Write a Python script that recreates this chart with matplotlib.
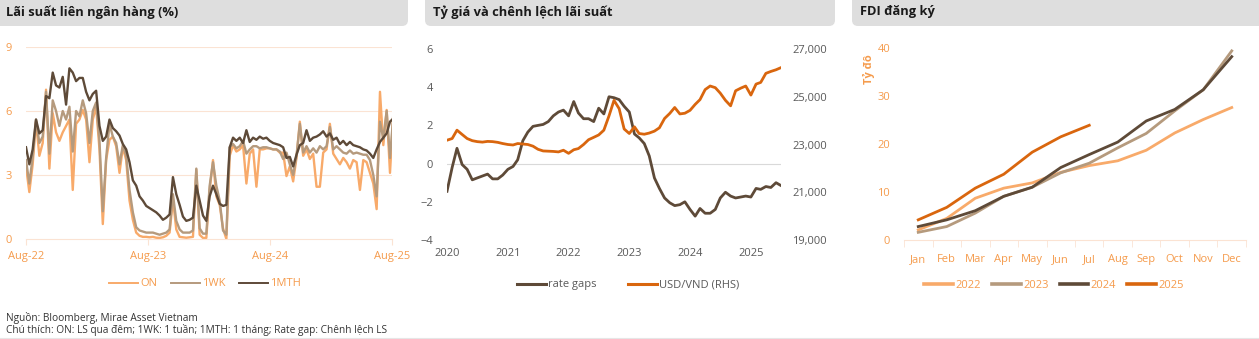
import pandas as pd
import matplotlib.pyplot as plt
from matplotlib.patches import FancyBboxPatch
from matplotlib.lines import Line2D

plt.rcParams['font.family'] = ['Open Sans', 'DejaVu Sans']

W, H = 1259, 339

ORANGE_TXT = '#F59B4C'
GREY_TXT = '#595959'
C_LIGHT = '#F8AA6A'
C_TAN = '#B59A7D'
C_DARK = '#5E4A38'
C_ORANGE = '#D9660E'
PEACH = '#FBE3D3'

# --- interbank rates, every 10 days from Aug-2022 ---
ib_start = "2022-08-01"
rate_1mth = [4.3, 3.5, 4.2, 5.6, 4.95, 5.1, 6.7, 6.6, 7.8, 7.2,
             7.1, 7.6, 6.3, 8.0, 7.8, 7.4, 7.55, 7.55, 6.9, 6.5,
             6.8, 6.95, 5.3, 4.6, 4.8, 5.6, 5.2, 5.05, 4.85, 4.45,
             4.2, 3.6, 2.75, 2.5, 2.0, 1.8, 1.55, 1.45, 1.35, 1.25,
             1.1, 0.9, 1.0, 1.15, 2.9, 2.1, 1.6, 1.05, 0.85, 0.9,
             1.0, 2.5, 1.8, 1.1, 0.85, 2.0, 2.5, 2.1, 1.65, 1.55,
             1.6, 4.3, 4.75, 4.6, 4.75, 4.5, 5.1, 4.55, 4.75, 4.65,
             4.8, 4.7, 4.75, 4.6, 4.5, 4.45, 4.4, 4.3, 3.8, 3.85,
             3.4, 3.95, 4.4, 4.5, 5.1, 4.6, 4.75, 4.8, 4.9, 5.05,
             4.8, 4.95, 4.65, 4.75, 4.45, 4.6, 4.4, 4.55, 4.4, 4.35,
             4.3, 4.2, 4.15, 4.0, 3.8, 4.2, 4.55, 4.75, 4.95, 5.5,
             5.65]
rate_1wk = [3.7, 2.6, 3.85, 5.6, 4.5, 4.8, 6.9, 4.0, 6.5, 6.0,
            5.3, 6.0, 5.6, 6.2, 4.1, 6.0, 5.75, 6.5, 5.9, 4.5,
            6.0, 6.4, 4.6, 1.3, 3.8, 5.4, 4.8, 4.5, 3.5, 4.4,
            3.9, 2.3, 1.25, 0.55, 0.4, 0.35, 0.3, 0.3, 0.3, 0.25,
            0.2, 0.25, 0.3, 0.45, 2.1, 0.85, 0.45, 0.3, 0.3, 0.3,
            0.4, 3.3, 0.5, 0.25, 0.25, 2.5, 3.6, 2.5, 1.8, 0.4,
            0.2, 4.3, 4.45, 4.25, 4.35, 4.6, 4.0, 4.2, 4.35, 4.35,
            4.25, 4.3, 4.3, 4.25, 4.2, 4.2, 4.1, 3.75, 4.05, 3.5,
            3.0, 3.9, 5.4, 4.05, 4.35, 4.05, 4.25, 4.05, 4.35, 4.2,
            4.35, 5.25, 4.2, 4.35, 4.2, 4.05, 4.0, 4.15, 4.0, 4.05,
            4.0, 3.95, 3.95, 3.7, 3.0, 2.0, 5.5, 4.7, 6.0, 3.8,
            5.8]
rate_on = [3.4, 2.2, 3.5, 5.5, 3.9, 4.5, 7.0, 3.3, 5.9, 5.0,
           4.6, 5.0, 5.3, 5.6, 2.3, 5.4, 5.6, 6.05, 5.6, 3.6,
           5.6, 6.2, 4.2, 0.7, 3.7, 4.65, 4.8, 4.35, 3.1, 4.3,
           3.7, 1.8, 0.9, 0.3, 0.15, 0.1, 0.1, 0.08, 0.1, 0.06,
           0.05, 0.08, 0.15, 0.3, 1.85, 0.45, 0.1, 0.08, 0.06, 0.08,
           0.1, 3.25, 0.2, 0.05, 0.05, 2.3, 3.7, 2.0, 1.6, 0.5,
           0.0, 3.9, 4.4, 4.1, 4.2, 4.4, 2.6, 4.0, 4.2, 2.45,
           4.2, 4.2, 4.25, 4.25, 4.2, 4.2, 4.05, 4.05, 2.95, 3.4,
           2.7, 3.8, 5.5, 3.9, 4.2, 3.75, 4.0, 2.45, 2.45, 4.05,
           4.2, 5.4, 4.0, 3.75, 3.5, 3.8, 3.6, 3.3, 3.7, 3.6,
           2.3, 3.7, 3.6, 3.1, 2.6, 1.4, 6.9, 4.4, 6.05, 3.1,
           5.9]
ib_ticks = ["2022-08-01", "2023-08-01", "2024-08-01", "2025-08-01"]
ib_ticklabels = ["Aug-22", "Aug-23", "Aug-24", "Aug-25"]

# --- exchange rate and rate gap, monthly from Jan-2020 ---
fx_start = "2020-01-01"
rate_gaps = [-1.45, -0.2, 0.8, -0.05, -0.3, -0.85, -0.75, -0.65, -0.55, -0.8,
             -0.8, -0.6, -0.3, -0.15, 0.2, 1.2, 1.65, 1.95, 2.0, 2.05,
             2.2, 2.5, 2.7, 2.8, 2.5, 3.25, 2.65, 2.35, 2.35, 2.2,
             2.9, 2.6, 3.5, 3.45, 3.35, 3.0, 2.7, 1.55, 1.35, 1.05,
             0.4, -0.75, -1.3, -1.8, -2.05, -2.2, -2.15, -2.0, -2.4, -2.75,
             -2.35, -2.6, -2.6, -2.4, -1.8, -1.5, -1.7, -1.8, -1.75, -1.7,
             -1.75, -1.3, -1.35, -1.2, -1.25, -1.0, -1.15]
usd_vnd = [23180, 23250, 23600, 23420, 23250, 23160, 23120, 23100, 23130, 23120,
           23090, 23040, 23000, 22980, 23040, 23020, 23000, 22930, 22800, 22730,
           22720, 22710, 22690, 22760, 22630, 22780, 22830, 23000, 23200, 23300,
           23400, 23600, 24200, 24850, 24500, 23650, 23460, 23740, 23460, 23430,
           23480, 23560, 23700, 24090, 24300, 24550, 24280, 24310, 24430, 24680,
           24880, 25300, 25450, 25380, 25150, 24850, 24620, 25250, 25360, 25450,
           25070, 25530, 25600, 25980, 26060, 26130, 26220]
fx_years = ["2020", "2021", "2022", "2023", "2024", "2025"]

# --- registered FDI, cumulative, USD bn ---
fdi_months = ["Jan", "Feb", "Mar", "Apr", "May", "Jun",
              "Jul", "Aug", "Sep", "Oct", "Nov", "Dec"]
fdi_2022 = [2.1, 4.5, 8.7, 10.8, 11.9, 14.1, 15.5, 16.5, 18.7, 22.3, 25.1, 27.6]
fdi_2023 = [1.6, 2.8, 5.6, 9.1, 11.0, 14.0, 16.0, 19.2, 22.2, 26.9, 31.3, 39.4]
fdi_2024 = [2.8, 4.2, 6.1, 9.1, 11.0, 15.1, 17.8, 20.4, 24.8, 27.2, 31.3, 38.2]
fdi_2025 = [4.2, 6.8, 10.8, 13.7, 18.3, 21.5, 23.9]


def px_axes(x0, y0, x1, y1):
    return fig.add_axes([x0 / W, 1 - y1 / H, (x1 - x0) / W, (y1 - y0) / H])


def title_bar(x0, x1, text):
    box = FancyBboxPatch((x0, H - 26), x1 - x0, 40,
                         boxstyle="round,pad=0,rounding_size=6",
                         facecolor='#DEDEDE', edgecolor='none',
                         transform=None, zorder=0)
    fig.patches.append(box)
    fig.text((x0 + 8 if x0 > 0 else 6) / W, 1 - 12 / H, text,
             fontsize=9.3, fontweight='bold', color='#1A1A1A', va='center')


fig = plt.figure(figsize=(W / 100, H / 100), dpi=100)

title_bar(-10, 408, "Lãi suất liên ngân hàng (%)")
title_bar(425, 835, "Tỷ giá và chênh lệch lãi suất")
title_bar(852, 1275, "FDI đăng ký")

# interbank panel
ax1 = px_axes(26, 47, 392, 239)
ib_dates = pd.date_range(ib_start, periods=len(rate_1mth), freq="10D")
ax1.plot(ib_dates, rate_on, color=C_LIGHT, lw=1.7, label="ON")
ax1.plot(ib_dates, rate_1wk, color=C_TAN, lw=1.7, label="1WK")
ax1.plot(ib_dates, rate_1mth, color=C_DARK, lw=1.7, label="1MTH")
ax1.set_xlim(pd.Timestamp(ib_ticks[0]), pd.Timestamp(ib_ticks[-1]))
ax1.set_ylim(0, 9)
ax1.set_yticks([0, 3, 6, 9])
for v in [3, 6, 9]:
    ax1.axhline(v, color=PEACH, lw=0.8, zorder=0)
ax1.set_xticks(pd.to_datetime(ib_ticks))
ax1.set_xticklabels(ib_ticklabels)
for s in ['top', 'right', 'left']:
    ax1.spines[s].set_visible(False)
ax1.spines['bottom'].set_color(PEACH)
ax1.tick_params(axis='y', length=0, pad=10, labelsize=8, labelcolor=ORANGE_TXT)
ax1.tick_params(axis='x', length=4, color=PEACH, pad=5, labelsize=8,
                labelcolor=ORANGE_TXT)
h1 = [Line2D([], [], color=c, lw=1.4) for c in (C_LIGHT, C_TAN, C_DARK)]
ax1.legend(h1, ["ON", "1WK", "1MTH"], loc='center',
           bbox_to_anchor=(205 / W, 1 - 284 / H), bbox_transform=fig.transFigure,
           ncol=3, frameon=False, fontsize=8, labelcolor=ORANGE_TXT,
           handlelength=2.6, handletextpad=0.2, columnspacing=1.2)

# exchange rate panel
ax2 = px_axes(447, 49, 781, 240)
fx_dates = pd.date_range(fx_start, periods=len(rate_gaps), freq="MS")
ax2.axhline(0, color='#D9D9D9', lw=0.8, zorder=0)
ax2.plot(fx_dates, rate_gaps, color=C_DARK, lw=2.0, zorder=3)
ax2.set_ylim(-4, 6)
ax2.set_yticks([-4, -2, 0, 2, 4, 6])
ax2.set_xlim(fx_dates[0], fx_dates[-1])
ax2.set_xticks(pd.to_datetime([y + "-01-01" for y in fx_years]))
ax2.set_xticklabels(fx_years)
ax2b = ax2.twinx()
ax2b.plot(fx_dates, usd_vnd, color=C_ORANGE, lw=2.0)
ax2b.set_ylim(19000, 27000)
ax2b.set_yticks([19000, 21000, 23000, 25000, 27000])
ax2b.set_yticklabels([f"{v:,}" for v in [19000, 21000, 23000, 25000, 27000]])
for a in (ax2, ax2b):
    for s in a.spines.values():
        s.set_visible(False)
    a.tick_params(length=0, labelsize=8, labelcolor=GREY_TXT)
ax2.tick_params(axis='y', pad=10)
ax2.tick_params(axis='x', pad=6)
ax2b.tick_params(axis='y', pad=8)
h2 = [Line2D([], [], color=c, lw=2.2) for c in (C_DARK, C_ORANGE)]
ax2.legend(h2, ["rate gaps", "USD/VND (RHS)"], loc='center',
           bbox_to_anchor=(628 / W, 1 - 285 / H), bbox_transform=fig.transFigure,
           ncol=2, frameon=False, fontsize=8, labelcolor=GREY_TXT,
           handlelength=2.6, handletextpad=0.2, columnspacing=2.8)

# FDI panel
ax3 = px_axes(904, 48, 1246, 240)
x_all = range(len(fdi_months))
ax3.plot(x_all, fdi_2022, color=C_LIGHT, lw=2.0, label="2022")
ax3.plot(x_all, fdi_2023, color=C_TAN, lw=2.0, label="2023")
ax3.plot(x_all, fdi_2024, color=C_DARK, lw=2.0, label="2024")
ax3.plot(range(len(fdi_2025)), fdi_2025, color=C_ORANGE, lw=2.0, label="2025")
ax3.set_xlim(-0.5, len(fdi_months) - 0.5)
ax3.set_ylim(0, 40)
ax3.set_yticks([0, 10, 20, 30, 40])
ax3.set_xticks(list(x_all))
ax3.set_xticklabels(fdi_months)
ax3.set_xticks([i - 0.5 for i in range(len(fdi_months) + 1)], minor=True)
for s in ['top', 'right', 'left']:
    ax3.spines[s].set_visible(False)
ax3.spines['bottom'].set_color(PEACH)
ax3.tick_params(axis='x', which='major', length=0, pad=10, labelsize=8,
                labelcolor=ORANGE_TXT)
ax3.tick_params(axis='x', which='minor', length=5, color=PEACH)
ax3.tick_params(axis='y', length=0, pad=10, labelsize=8, labelcolor=ORANGE_TXT)
fig.text(869 / W, 1 - 69 / H, "Tỷ đô", rotation=90, ha='center', va='center',
         fontsize=8, fontweight='bold', color=ORANGE_TXT)
h3 = [Line2D([], [], color=c, lw=2.6) for c in (C_LIGHT, C_TAN, C_DARK, C_ORANGE)]
ax3.legend(h3, ["2022", "2023", "2024", "2025"], loc='center',
           bbox_to_anchor=(1054 / W, 1 - 285 / H), bbox_transform=fig.transFigure,
           ncol=4, frameon=False, fontsize=8, labelcolor=ORANGE_TXT,
           handlelength=2.6, handletextpad=0.2, columnspacing=1.0)

# notes
fig.text(6 / W, 1 - 318 / H, "Nguồn: Bloomberg, Mirae Asset Vietnam",
         fontsize=7.3, color='#333333', va='center')
fig.text(6 / W, 1 - 330 / H,
         "Chú thích: ON: LS qua đêm; 1WK: 1 tuần; 1MTH: 1 tháng; Rate gap: Chênh lệch LS",
         fontsize=7.3, color='#333333', va='center')
fig.add_artist(Line2D([0, 1], [1 - 337.5 / H] * 2, color='#E6E6E6', lw=0.8,
                      transform=fig.transFigure))

fig.savefig("out.png", dpi=100)
